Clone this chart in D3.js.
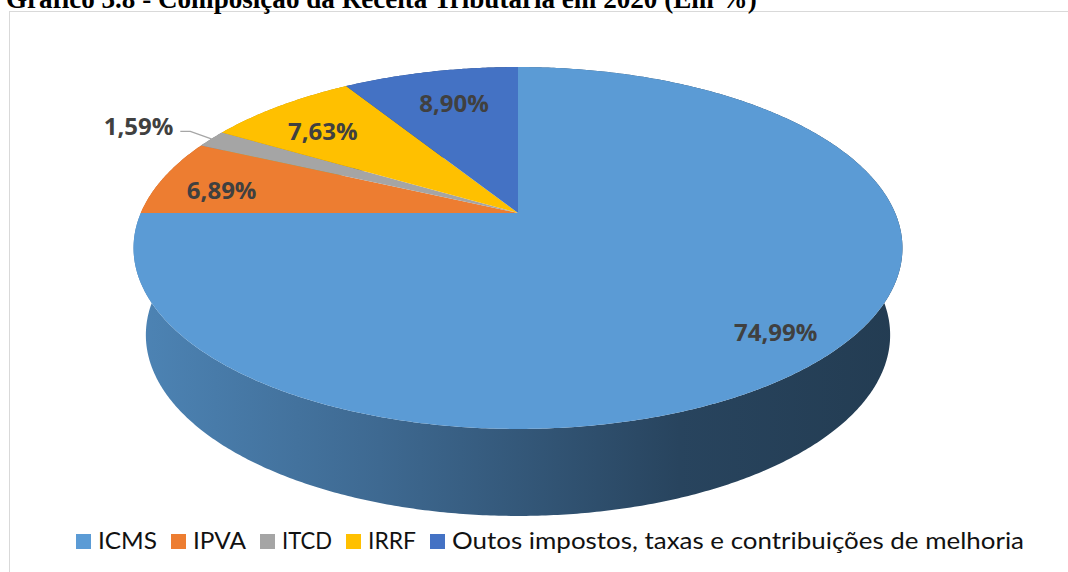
<!DOCTYPE html>
<html><head><meta charset="utf-8">
<script src="https://cdn.jsdelivr.net/npm/d3@7"></script>
<style>html,body{margin:0;padding:0;background:#fff;overflow:hidden}</style>
</head><body>
<svg id="chart" width="1068" height="572"></svg>
<script>
// ---- data ----
const title = "Gráfico 3.8 - Composição da Receita Tributária em 2020 (Em %)";
const categories = ["ICMS", "IPVA", "ITCD", "IRRF", "Outos impostos, taxas e contribuições de melhoria"];
const values = [74.99, 6.89, 1.59, 7.63, 8.90];
const colors = ["#5B9BD5", "#ED7D31", "#A5A5A5", "#FFC000", "#4472C4"];

// ---- layout (not data) ----
const W = 1068, H = 572;
const CX = 518, CY = 213;          // projected pie centre
const FK = 377.2, FKS = 174.2, U = 0.1933; // perspective parameters
const DEPTH = 87, BSCALE = 0.968;  // side wall
const labelR = 0.8;
const labelNudge = [[18, 9], [-11, 6], [0, 0], [0, 6], [8.5, 7]];

const svg = d3.select("#chart");
const locale = d3.formatLocale({decimal: ",", thousands: ".", grouping: [3], currency: ["R$", ""]});
const fmt = locale.format(".2f");

function proj(a, r, bottom) {
  const den = 1 + U * r * Math.cos(a);
  let x = FK * r * Math.sin(a) / den;
  let y = -FKS * r * Math.cos(a) / den;
  if (bottom) { x *= BSCALE; y += DEPTH; }
  return [CX + x, CY + y];
}

// frame
svg.append("rect").attr("x", 9.5).attr("y", 11.5).attr("width", 1200).attr("height", 700)
  .attr("fill", "none").attr("stroke", "#d9d9d9").attr("stroke-width", 1);

// title (cut off at top as in the source)
const t = svg.append("text").attr("x", 6).attr("y", 8)
  .attr("font-family", "'Liberation Serif', 'Times New Roman', serif")
  .attr("font-weight", "bold").attr("font-size", 24).attr("fill", "#000").text(title);
const tl = t.node().getComputedTextLength();
t.attr("font-size", 24 * 751 / tl);

const pie = d3.pie().sort(null).value(d => d.value).startAngle(0).endAngle(2 * Math.PI);
const data = categories.map((c, i) => ({name: c, value: values[i], color: colors[i], i}));
const arcs = pie(data);

const defs = svg.append("defs");
const xMin = CX - FK / Math.sqrt(1 - U * U), xMax = CX + FK / Math.sqrt(1 - U * U);
const shadeStops = [[0, 0.85], [0.32, 0.68], [0.71, 0.44], [1, 0.385]];
arcs.forEach(d => {
  const g = defs.append("linearGradient").attr("id", "side" + d.data.i)
    .attr("gradientUnits", "userSpaceOnUse").attr("x1", xMin).attr("x2", xMax).attr("y1", 0).attr("y2", 0);
  const c = d3.rgb(d.data.color);
  shadeStops.forEach(([o, f]) => {
    g.append("stop").attr("offset", o).attr("stop-color", d3.rgb(c.r * f, c.g * f, c.b * f).formatHex());
  });
});

const line = d3.line();
function arcPts(a0, a1, r, bottom) {
  const n = Math.max(2, Math.ceil((a1 - a0) / (Math.PI / 360)));
  return d3.range(n + 1).map(k => proj(a0 + (a1 - a0) * k / n, r, bottom));
}

// side walls, back to front
const wallOrder = arcs.slice().sort((a, b) =>
  Math.cos((b.startAngle + b.endAngle) / 2) - Math.cos((a.startAngle + a.endAngle) / 2));
svg.append("g").selectAll("path").data(wallOrder).join("path")
  .attr("d", d => {
    const top = arcPts(d.startAngle, d.endAngle, 1, false);
    const bot = arcPts(d.startAngle, d.endAngle, 1, true).reverse();
    return line(top.concat(bot)) + "Z";
  })
  .attr("fill", d => "url(#side" + d.data.i + ")");

// top faces
svg.append("g").selectAll("path").data(arcs).join("path")
  .attr("d", d => line([[CX, CY]].concat(arcPts(d.startAngle, d.endAngle, 1, false))) + "Z")
  .attr("fill", d => d.data.color);

// data labels
const lg = svg.append("g").attr("font-family", "'Open Sans', sans-serif").attr("font-weight", "bold")
  .attr("font-size", 24).attr("fill", "#404040");
arcs.forEach(d => {
  const mid = (d.startAngle + d.endAngle) / 2;
  const txt = fmt(d.data.value) + "%";
  if (d.data.value < 3) {
    const e = proj(mid, 1, false);
    svg.append("path")
      .attr("d", line([e, [e[0] - 21, e[1] - 7.5], [e[0] - 31, e[1] - 7.5]]))
      .attr("fill", "none").attr("stroke", "#a6a6a6").attr("stroke-width", 1.3);
    lg.append("text").attr("x", e[0] - 38).attr("y", e[1] - 12).attr("dy", "0.35em")
      .attr("text-anchor", "end").text(txt);
  } else {
    const p = proj(mid, labelR, false);
    const nd = labelNudge[d.data.i];
    lg.append("text").attr("x", p[0] + nd[0]).attr("y", p[1] + nd[1]).attr("dy", "0.35em")
      .attr("text-anchor", "middle").text(txt);
  }
});

// legend
const legW = [59, 53, 50, 48, 572];
const leg = svg.append("g").attr("font-family", "Lato, 'Open Sans', sans-serif").attr("font-size", 24).attr("fill", "#111");
let lx = 76;
data.forEach((d, i) => {
  leg.append("rect").attr("x", lx).attr("y", 534).attr("width", 15).attr("height", 15).attr("fill", d.color);
  leg.append("text").attr("x", lx + 22).attr("y", 549).text(d.name)
    .attr("textLength", legW[i]).attr("lengthAdjust", "spacingAndGlyphs");
  lx += 22 + legW[i] + 14;
});
</script>
</body></html>
